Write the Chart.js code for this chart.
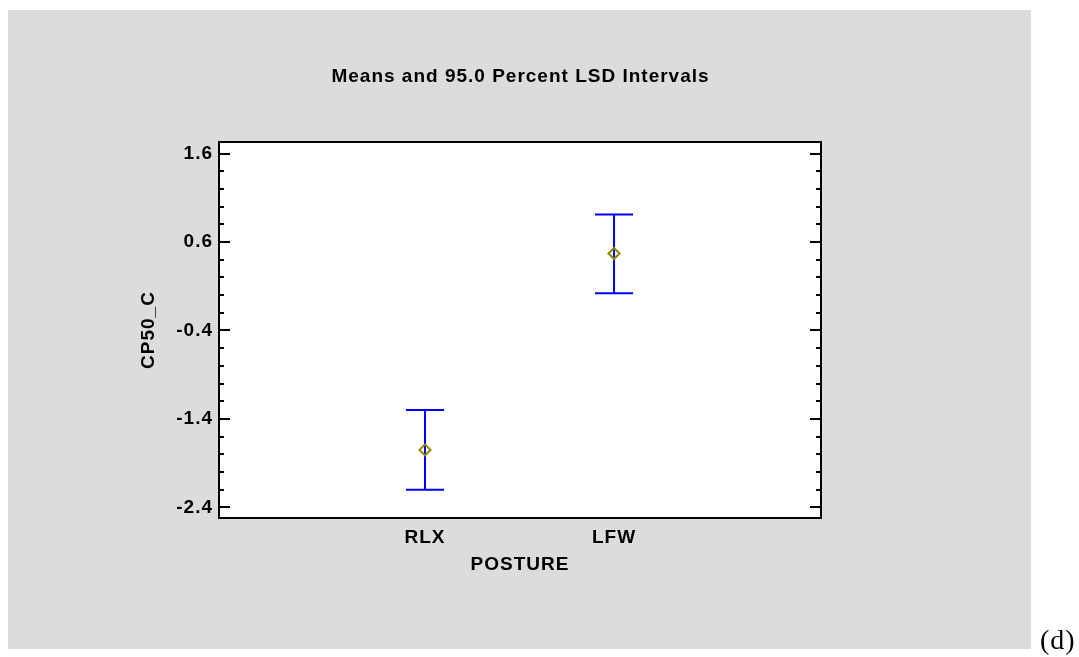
<!DOCTYPE html>
<html>
<head>
<meta charset="utf-8">
<script src="https://cdn.jsdelivr.net/npm/chart.js@4.4.1/dist/chart.umd.min.js"></script>
<style>
  html, body { margin: 0; padding: 0; background: #fff; }
  canvas { display: block; }
</style>
</head>
<body>
<canvas id="c" width="1079" height="657"></canvas>
<script>
// Group means with their 95% LSD interval limits
const categories = ['RLX', 'LFW'];
const means = [-1.75, 0.47];
const lowerLimits = [-2.20, 0.02];
const upperLimits = [-1.30, 0.91];
const yTickValues = [-2.4, -1.4, -0.4, 0.6, 1.6];
const minorPerMajor = 5;

const FONT = "'Liberation Sans', Arial, Helvetica, sans-serif";
Chart.defaults.font.family = FONT;
Chart.defaults.color = '#000';

const boldFont = { size: 19, weight: 'bold', family: FONT };

// slightly wider letter spacing for all chart text
const textSpacing = {
  id: 'textSpacing',
  beforeUpdate(chart) { chart.ctx.letterSpacing = '1px'; },
  beforeDraw(chart) { chart.ctx.letterSpacing = '1px'; }
};

// grey panel, white plot area, framed box with inward ticks on both sides
const panel = {
  id: 'panel',
  beforeDraw(chart) {
    const ctx = chart.ctx, a = chart.chartArea;
    ctx.save();
    ctx.fillStyle = '#fff';
    ctx.fillRect(0, 0, chart.width, chart.height);
    ctx.fillStyle = '#dcdcdc';
    ctx.fillRect(8, 10, 1023, 639);
    ctx.fillStyle = '#fff';
    ctx.fillRect(a.left, a.top, a.right - a.left, a.bottom - a.top);
    ctx.restore();
  },
  afterDraw(chart) {
    const ctx = chart.ctx, a = chart.chartArea, y = chart.scales.y;
    ctx.save();
    ctx.strokeStyle = '#000';
    ctx.lineWidth = 2;
    ctx.strokeRect(a.left, a.top, a.right - a.left, a.bottom - a.top);
    const step = (yTickValues[1] - yTickValues[0]) / minorPerMajor;
    const count = (yTickValues.length - 1) * minorPerMajor;
    ctx.beginPath();
    for (let k = 0; k <= count; k++) {
      const v = yTickValues[0] + k * step;
      const py = Math.round(y.getPixelForValue(v));
      const len = k % minorPerMajor === 0 ? 11 : 5;
      ctx.moveTo(a.left, py); ctx.lineTo(a.left + len, py);
      ctx.moveTo(a.right, py); ctx.lineTo(a.right - len, py);
    }
    ctx.stroke();
    ctx.fillStyle = '#000';
    ctx.font = "28px 'Liberation Serif', 'Times New Roman', serif";
    ctx.letterSpacing = '1px';
    ctx.textAlign = 'left';
    ctx.textBaseline = 'alphabetic';
    ctx.fillText('(d)', 1040, 649);
    ctx.restore();
  }
};

const intervalSets = categories.map((c, i) => ({
  type: 'line',
  label: c + ' interval',
  data: [{ x: i + 1, y: lowerLimits[i] }, { x: i + 1, y: upperLimits[i] }],
  borderColor: '#0000ff',
  borderWidth: 2,
  pointStyle: 'line',
  pointRadius: 19,
  pointBorderColor: '#0000ff',
  pointBorderWidth: 2,
  order: 2
}));

const meanSet = {
  type: 'scatter',
  label: 'Mean',
  data: categories.map((c, i) => ({ x: i + 1, y: means[i] })),
  pointStyle: 'rectRot',
  pointRadius: 5.5,
  pointBorderColor: '#8f8800',
  pointBackgroundColor: 'rgba(255,255,255,0)',
  pointBorderWidth: 2,
  order: 1
};

new Chart(document.getElementById('c'), {
  type: 'scatter',
  data: { datasets: [...intervalSets, meanSet] },
  options: {
    responsive: false,
    animation: false,
    events: [],
    layout: { padding: { left: 0, right: 38, top: 0, bottom: 0 } },
    plugins: {
      legend: { display: false },
      tooltip: { enabled: false },
      title: {
        display: true,
        text: 'Means and 95.0 Percent LSD Intervals',
        color: '#000',
        font: boldFont,
        padding: { top: 65.6, bottom: 53.6 }
      }
    },
    scales: {
      x: {
        type: 'linear',
        min: -0.09,
        max: 3.095,
        grid: { display: false, drawTicks: false },
        border: { display: false },
        afterBuildTicks(s) { s.ticks = categories.map((c, i) => ({ value: i + 1 })); },
        ticks: {
          autoSkip: false,
          maxRotation: 0,
          padding: 8,
          font: boldFont,
          callback: (v) => categories[v - 1]
        },
        title: { display: true, text: 'POSTURE', font: boldFont, padding: { top: 0, bottom: 81 } },
        afterFit(s) { s.height = 139; }
      },
      y: {
        type: 'linear',
        position: 'left',
        min: -2.52,
        max: 1.73,
        grid: { display: false, drawTicks: false },
        border: { display: false },
        afterBuildTicks(s) { s.ticks = yTickValues.map(v => ({ value: v })); },
        ticks: { padding: 6, font: boldFont, callback: (v) => Number(v).toFixed(1) },
        title: { display: true, text: 'CP50_C', font: boldFont, padding: { top: 137.6, bottom: 0 } },
        afterFit(s) { s.width = 219; }
      },
      y2: {
        type: 'linear',
        position: 'right',
        min: -2.52,
        max: 1.73,
        grid: { display: false, drawTicks: false },
        border: { display: false },
        ticks: { display: false },
        afterFit(s) { s.width = 220; }
      }
    }
  },
  plugins: [textSpacing, panel]
});
</script>
</body>
</html>
